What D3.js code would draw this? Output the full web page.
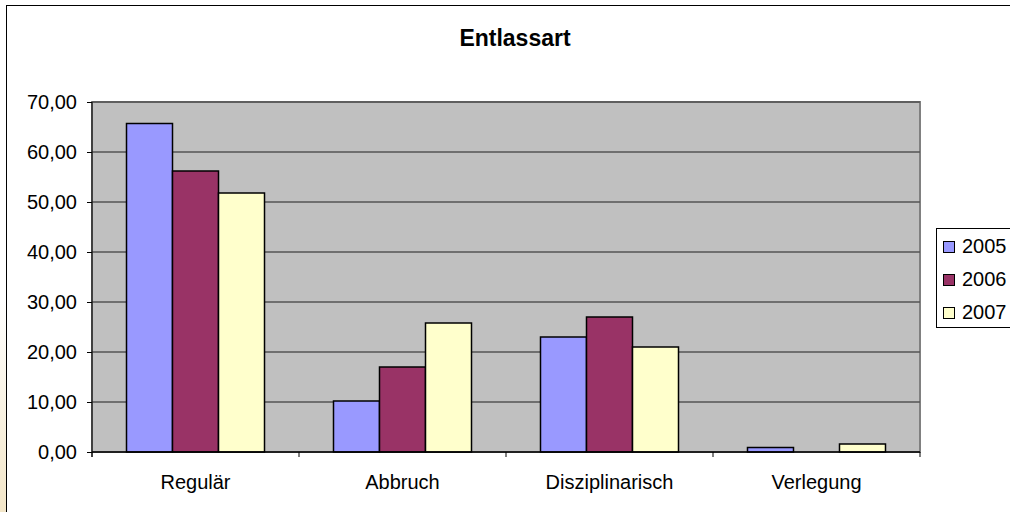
<!DOCTYPE html>
<html>
<head>
<meta charset="utf-8">
<script src="https://cdn.jsdelivr.net/npm/d3@7"></script>
<style>
  body { margin: 0; background: #fff; }
  svg { display: block; font-family: Arial, "Liberation Sans", sans-serif; }
</style>
</head>
<body>
<div id="chart"></div>
<script>
// Entlassart – share per year (percent)
const categories = ["Regulär", "Abbruch", "Disziplinarisch", "Verlegung"];
const years = ["2005", "2006", "2007"];
const values2005 = [65.7, 10.2, 23.0, 0.9];
const values2006 = [56.2, 17.0, 27.0, 0.0];
const values2007 = [51.8, 25.8, 21.0, 1.6];
const yTicks = [0, 10, 20, 30, 40, 50, 60, 70];
const colors = ["#9999ff", "#993366", "#ffffcc"];

const series = [values2005, values2006, values2007];

const width = 1010, height = 512;
const plot = { left: 92, right: 920, top: 102, bottom: 452 };

const svg = d3.select("#chart").append("svg")
    .attr("width", width)
    .attr("height", height);

// faint beige glow on left edge
const defs = svg.append("defs");
const grad = defs.append("linearGradient").attr("id", "glow")
    .attr("x1", 0).attr("y1", 0).attr("x2", 0).attr("y2", 1);
grad.append("stop").attr("offset", "0%").attr("stop-color", "#fff");
grad.append("stop").attr("offset", "100%").attr("stop-color", "#f3e6c8");
svg.append("rect")
    .attr("x", 0).attr("y", 300).attr("width", 6).attr("height", 212)
    .attr("fill", "url(#glow)");

// outer chart border
svg.append("rect")
    .attr("x", 6.5).attr("y", 5.5)
    .attr("width", 1010).attr("height", 520)
    .attr("fill", "#fff")
    .attr("stroke", "#000");

svg.append("text")
    .attr("x", 515).attr("y", 46)
    .attr("text-anchor", "middle")
    .style("font-size", "23px")
    .style("font-weight", "bold")
    .text("Entlassart");

const x0 = d3.scaleBand()
    .domain(categories)
    .range([plot.left, plot.right])
    .paddingInner(0.3333)
    .paddingOuter(0.16667);

const x1 = d3.scaleBand()
    .domain(years)
    .range([0, x0.bandwidth()]);

const y = d3.scaleLinear()
    .domain([0, 70])
    .range([plot.bottom, plot.top]);

// plot area
svg.append("rect")
    .attr("x", plot.left).attr("y", plot.top)
    .attr("width", plot.right - plot.left)
    .attr("height", plot.bottom - plot.top)
    .attr("fill", "#c0c0c0")
    .attr("stroke", "#808080")
    .attr("stroke-width", 2);

// gridlines
svg.append("g")
    .selectAll("line")
    .data(yTicks.filter(d => d > 0))
    .enter()
    .append("line")
    .attr("x1", plot.left).attr("x2", plot.right)
    .attr("y1", d => y(d)).attr("y2", d => y(d))
    .attr("stroke", "#555")
    .attr("stroke-width", 1.3);

// bars
years.forEach(function (yr, i) {
    svg.append("g")
        .selectAll("rect")
        .data(series[i])
        .enter()
        .append("rect")
        .attr("x", (d, j) => x0(categories[j]) + x1(yr))
        .attr("y", d => y(d))
        .attr("width", x1.bandwidth())
        .attr("height", d => y(0) - y(d))
        .attr("fill", colors[i])
        .attr("stroke", d => d > 0 ? "#000" : "none")
        .attr("stroke-width", 1.5);
});

// y axis
const yAxis = svg.append("g")
    .attr("transform", "translate(" + plot.left + ",0)")
    .call(d3.axisLeft(y)
        .tickValues(yTicks)
        .tickSize(5)
        .tickPadding(10)
        .tickFormat(d => d3.format(".2f")(d).replace(".", ",")));
yAxis.select(".domain").attr("stroke", "#000").attr("d", "M0," + plot.top + "V" + (plot.bottom + 5));
yAxis.selectAll("text").style("font-size", "20px").attr("fill", "#000").attr("font-family", "Arial, 'Liberation Sans', sans-serif");

// x axis
const step = (plot.right - plot.left) / categories.length;
const xAxis = svg.append("g")
    .attr("transform", "translate(0," + plot.bottom + ")");
xAxis.append("line")
    .attr("x1", plot.left).attr("x2", plot.right)
    .attr("stroke", "#000").attr("stroke-width", 1.3);
xAxis.selectAll(".tk")
    .data(d3.range(categories.length + 1))
    .enter()
    .append("line")
    .attr("x1", d => plot.left + d * step).attr("x2", d => plot.left + d * step)
    .attr("y1", 0).attr("y2", 5)
    .attr("stroke", "#000");
xAxis.selectAll("text")
    .data(categories)
    .enter()
    .append("text")
    .attr("x", d => x0(d) + x0.bandwidth() / 2)
    .attr("y", 37)
    .attr("text-anchor", "middle")
    .style("font-size", "20px")
    .text(d => d);

// legend
const legend = svg.append("g").attr("transform", "translate(936,228)");
legend.append("rect")
    .attr("x", 0.5).attr("y", 0.5)
    .attr("width", 100).attr("height", 99)
    .attr("fill", "#fff")
    .attr("stroke", "#000");
const items = legend.selectAll(".item")
    .data(years)
    .enter()
    .append("g")
    .attr("transform", (d, i) => "translate(7," + (13 + i * 33) + ")");
items.append("rect")
    .attr("x", 0.5).attr("y", 0.5)
    .attr("width", 11).attr("height", 11)
    .attr("fill", (d, i) => colors[i])
    .attr("stroke", "#000");
items.append("text")
    .attr("x", 19).attr("y", 12)
    .style("font-size", "20px")
    .text(d => d);
</script>
</body>
</html>
